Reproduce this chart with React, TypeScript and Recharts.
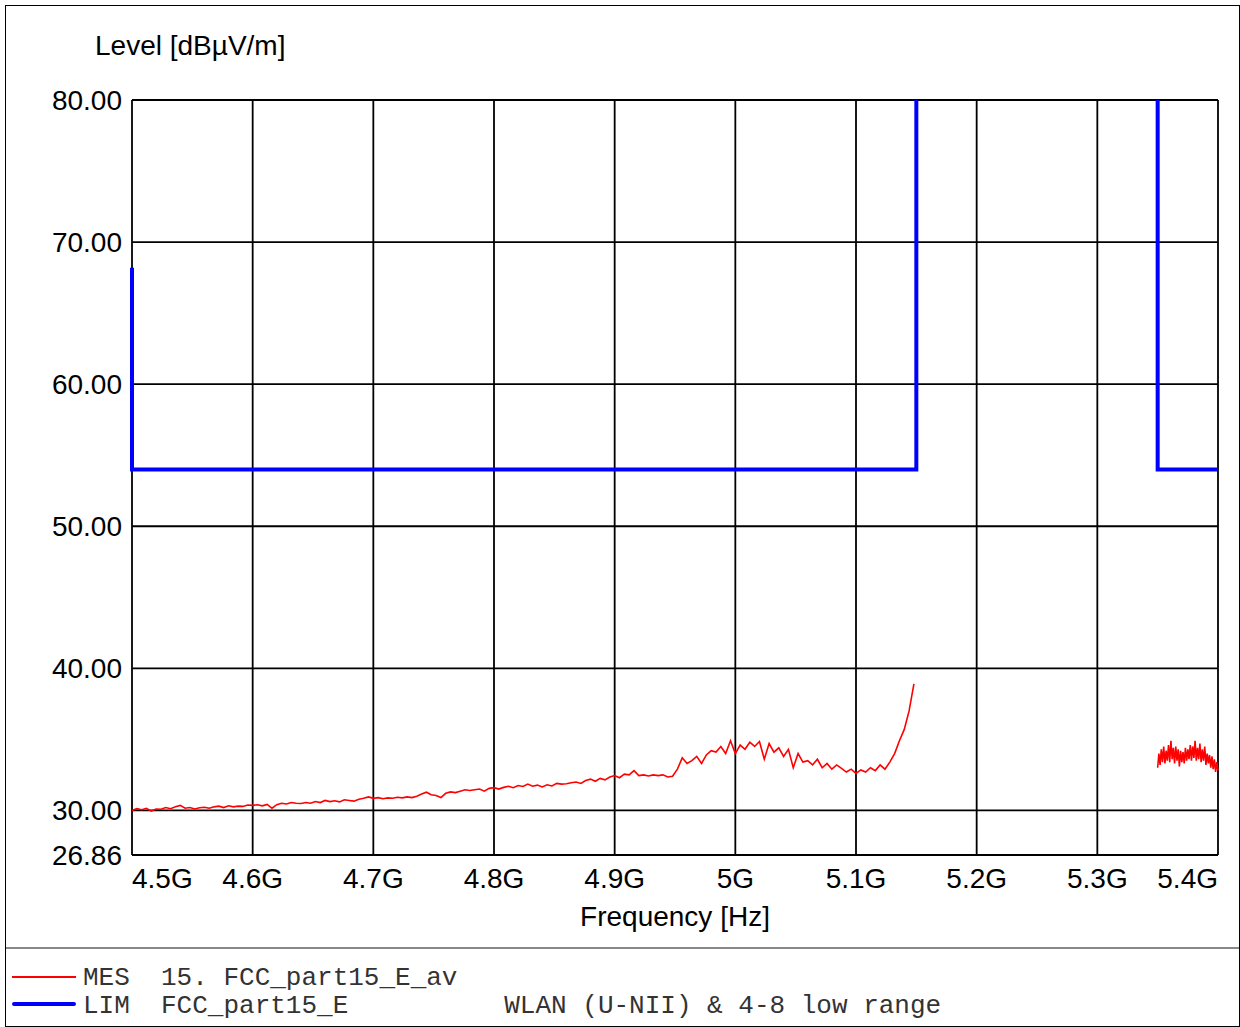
import { LineChart, Line, XAxis, YAxis, CartesianGrid } from "recharts";

// Sweep grid: low band 4.500 GHz, 4 MHz per point; upper band 5.350 GHz, 1 MHz per point
const LOW_START = 4.5;
const LOW_STEP = 0.004;
const HIGH_START = 5.35;
const HIGH_STEP = 0.001;

// MES 15. FCC_part15_E_av, 4.500 – 5.148 GHz
const mesLow = [
  30.0, 30.12, 30.05, 30.15, 29.95, 30.1, 30.08, 30.2, 30.12, 30.25,
  30.35, 30.15, 30.2, 30.1, 30.18, 30.22, 30.15, 30.25, 30.3, 30.2,
  30.32, 30.25, 30.3, 30.28, 30.38, 30.35, 30.4, 30.32, 30.42, 30.15,
  30.4, 30.5, 30.45, 30.55, 30.5, 30.48, 30.55, 30.5, 30.62, 30.55,
  30.7, 30.62, 30.68, 30.6, 30.75, 30.7, 30.65, 30.78, 30.85, 30.95,
  30.85, 30.9, 30.82, 30.88, 30.85, 30.92, 30.88, 30.95, 30.9, 31.0,
  31.15, 31.28, 31.1, 31.05, 30.9, 31.2, 31.3, 31.25, 31.35, 31.45,
  31.4, 31.45, 31.5, 31.35, 31.55, 31.6, 31.5, 31.62, 31.7, 31.6,
  31.75, 31.68, 31.85, 31.7, 31.78, 31.65, 31.8, 31.72, 31.9, 31.85,
  31.88, 31.95, 32.0, 31.9, 32.1, 32.2, 32.05, 32.25, 32.15, 32.35,
  32.45, 32.3, 32.55, 32.5, 32.8, 32.45, 32.5, 32.42, 32.5, 32.45,
  32.5, 32.35, 32.4, 32.9, 33.7, 33.3, 33.5, 33.8, 33.3, 33.9,
  34.2, 34.1, 34.5, 34.0, 34.9, 34.0, 34.6, 34.3, 34.8, 34.5,
  34.85, 33.6, 34.7, 34.1, 34.4, 33.8, 34.3, 33.0, 34.0, 33.4,
  33.5, 33.2, 33.6, 33.0, 33.3, 32.9, 33.2, 32.95, 32.7, 32.9,
  32.6, 32.85, 32.7, 33.0, 32.8, 33.2, 32.9, 33.4, 34.0, 34.9,
  35.7, 37.0, 38.9,
];

// MES, 5.350 – 5.400 GHz
const mesHigh = [
  33.0, 34.0, 33.2, 34.3, 33.4, 34.5, 33.3, 34.2, 33.5, 34.6,
  33.4, 34.9, 33.6, 34.4, 33.3, 34.5, 33.5, 34.3, 33.1, 34.2,
  33.4, 34.1, 33.3, 34.4, 33.5, 34.3, 33.6, 34.6, 33.5, 34.5,
  33.7, 34.9, 33.5, 34.4, 33.6, 34.7, 33.4, 34.3, 33.5, 34.5,
  33.2, 34.0, 33.3, 33.9, 33.0, 33.8, 32.9, 33.6, 32.7, 33.4, 32.8,
];

// LIM FCC_part15_E (restricted band edges)
const limFreqA = [4.5, 4.5, 5.15, 5.15];
const limLevelA = [68.2, 54, 54, 80];
const limFreqB = [5.35, 5.35, 5.4];
const limLevelB = [80, 54, 54];

const xTicks = [4.5, 4.6, 4.7, 4.8, 4.9, 5.0, 5.1, 5.2, 5.3, 5.4];
const yTicks = [26.86, 30, 40, 50, 60, 70, 80];

const mesLowData = mesLow.map((v, i) => ({ f: LOW_START + i * LOW_STEP, v }));
const mesHighData = mesHigh.map((v, i) => ({ f: HIGH_START + i * HIGH_STEP, v }));
const limDataA = limFreqA.map((f, i) => ({ f, v: limLevelA[i] }));
const limDataB = limFreqB.map((f, i) => ({ f, v: limLevelB[i] }));

const SANS = "'Liberation Sans', Arial, sans-serif";
const MONO = "'Liberation Mono', 'Courier New', monospace";

function XTick(props: any) {
  const { x, y, payload, index } = props;
  const last = index === xTicks.length - 1;
  const anchor = index === 0 ? "start" : last ? "end" : "middle";
  return (
    <text x={x} y={y} textAnchor={anchor} dominantBaseline="central" fill="#000" style={{ fontSize: 28, fontFamily: SANS }}>
      {`${Number(payload.value.toFixed(1))}G`}
    </text>
  );
}

function YTick(props: any) {
  const { x, y, payload } = props;
  return (
    <text x={x} y={y} textAnchor="end" dominantBaseline="central" fill="#000" style={{ fontSize: 28, fontFamily: SANS }}>
      {payload.value.toFixed(2)}
    </text>
  );
}

export default function App() {
  return (
    <div style={{ position: "absolute", left: 0, top: 0, width: 1240, height: 1027, background: "#fff" }}>
      <div style={{ position: "absolute", left: 5, top: 5, width: 1233, height: 1020, border: "1px solid #000", boxSizing: "content-box" }} />
      <div style={{ position: "absolute", left: 6, top: 947, width: 1233, height: 2, background: "#888" }} />

      <LineChart
        width={1240}
        height={1027}
        margin={{ top: 100, right: 22, bottom: 132, left: 32 }}
        style={{ position: "absolute", left: 0, top: 0 }}
      >
        <CartesianGrid stroke="#000" strokeWidth={1.8} />
        <XAxis
          dataKey="f"
          type="number"
          domain={[4.5, 5.4]}
          ticks={xTicks}
          height={40}
          tickSize={0}
          tickMargin={23}
          tickLine={false}
          axisLine={false}
          tick={<XTick />}
          interval={0}
        />
        <YAxis
          type="number"
          domain={[26.86, 80]}
          ticks={yTicks}
          width={100}
          tickSize={0}
          tickMargin={10}
          tickLine={false}
          axisLine={false}
          tick={<YTick />}
          interval={0}
        />
        <Line data={mesLowData} dataKey="v" type="linear" stroke="#ff0000" strokeWidth={1.6} dot={false} isAnimationActive={false} />
        <Line data={mesHighData} dataKey="v" type="linear" stroke="#ff0000" strokeWidth={1.6} dot={false} isAnimationActive={false} />
        <Line data={limDataA} dataKey="v" type="linear" stroke="#0000ff" strokeWidth={4} dot={false} isAnimationActive={false} />
        <Line data={limDataB} dataKey="v" type="linear" stroke="#0000ff" strokeWidth={4} dot={false} isAnimationActive={false} />
      </LineChart>

      <div style={{ position: "absolute", left: 95, top: 28, fontFamily: SANS, fontSize: 28, lineHeight: "36px", whiteSpace: "nowrap" }}>
        Level [dBµV/m]
      </div>
      <div style={{ position: "absolute", left: 475, width: 400, top: 899, textAlign: "center", fontFamily: SANS, fontSize: 28, lineHeight: "36px" }}>
        Frequency [Hz]
      </div>

      <div style={{ position: "absolute", left: 12, top: 976, width: 64, height: 1.5, background: "#ff0000" }} />
      <div style={{ position: "absolute", left: 12, top: 1002, width: 64, height: 4, background: "#0000ff", borderRadius: 2 }} />
      <div style={{ position: "absolute", left: 83, top: 964, fontFamily: MONO, fontSize: 26, lineHeight: "28px", whiteSpace: "pre", color: "#333", fontWeight: 300 }}>
        {"MES  15. FCC_part15_E_av"}
      </div>
      <div style={{ position: "absolute", left: 83, top: 992, fontFamily: MONO, fontSize: 26, lineHeight: "28px", whiteSpace: "pre", color: "#333", fontWeight: 300 }}>
        {"LIM  FCC_part15_E          WLAN (U-NII) & 4-8 low range"}
      </div>
    </div>
  );
}
